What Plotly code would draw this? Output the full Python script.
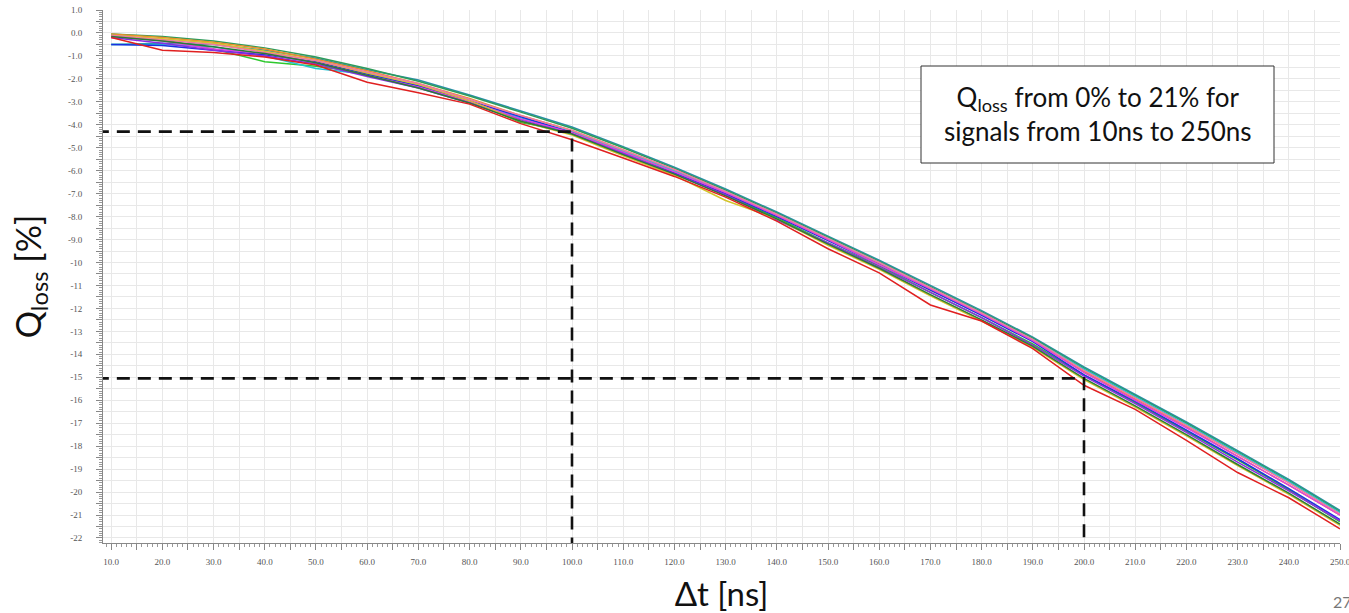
import plotly.graph_objects as go

# ---- data -------------------------------------------------------------
dt_ns = [10, 20, 30, 40, 50, 60, 70, 80, 90, 100, 110, 120, 130, 140, 150,
         160, 170, 180, 190, 200, 210, 220, 230, 240, 250]

s_teal = [-0.5, -0.45, -0.5, -0.75, -1.1, -1.6, -2.05, -2.7, -3.4, -4.1, -4.95, -5.85, -6.8, -7.8, -8.85,
          -9.9, -11.0, -12.1, -13.25, -14.55, -15.75, -16.95, -18.2, -19.45, -20.8]
s_seagreen = [-0.05, -0.15, -0.35, -0.65, -1.05, -1.55, -2.1, -2.75, -3.45, -4.15, -5.0, -5.9, -6.85, -7.85, -8.9,
              -9.95, -11.05, -12.15, -13.3, -14.6, -15.8, -17.0, -18.25, -19.5, -20.85]
s_orange = [-0.05, -0.2, -0.4, -0.7, -1.15, -1.65, -2.2, -2.85, -3.6, -4.25, -5.1, -6.0, -6.95, -7.95, -9.0,
            -10.05, -11.2, -12.25, -13.4, -14.75, -15.95, -17.15, -18.45, -19.7, -21.0]
s_green = [-0.1, -0.3, -0.7, -1.25, -1.45, -1.75, -2.3, -2.95, -3.9, -4.3, -5.2, -6.1, -7.05, -8.05, -9.15,
           -10.15, -11.3, -12.4, -13.55, -14.9, -16.1, -17.35, -18.6, -19.9, -21.3]
s_cyan = [-0.5, -0.5, -0.6, -1.0, -1.55, -1.8, -2.35, -3.0, -3.7, -4.3, -5.15, -6.0, -6.9, -7.9, -8.95,
          -10.0, -11.1, -12.2, -13.35, -14.65, -15.85, -17.05, -18.3, -19.55, -20.9]
s_blue = [-0.5, -0.55, -0.75, -0.95, -1.25, -1.8, -2.3, -2.95, -3.65, -4.35, -5.3, -6.1, -7.0, -8.0, -9.05,
          -10.1, -11.2, -12.3, -13.45, -14.9, -16.05, -17.3, -18.55, -19.85, -21.2]
s_magenta = [-0.15, -0.35, -0.7, -0.9, -1.3, -1.85, -2.35, -3.0, -3.75, -4.35, -5.2, -6.05, -6.95, -7.95, -9.0,
             -10.1, -11.15, -12.25, -13.4, -14.8, -16.0, -17.2, -18.45, -19.7, -21.0]
s_purple = [-0.2, -0.45, -0.75, -1.0, -1.35, -1.9, -2.4, -3.05, -3.8, -4.4, -5.25, -6.15, -7.05, -8.15, -9.15,
            -10.2, -11.3, -12.4, -13.6, -14.95, -16.15, -17.4, -18.7, -19.95, -21.25]
s_yellow = [-0.1, -0.25, -0.45, -0.8, -1.2, -1.75, -2.25, -2.95, -3.85, -4.45, -5.35, -6.2, -7.3, -8.1, -9.25,
            -10.3, -11.45, -12.55, -13.7, -15.1, -16.3, -17.55, -18.85, -20.1, -21.45]
s_pink = [-0.1, -0.3, -0.5, -0.85, -1.2, -1.7, -2.2, -2.9, -3.6, -4.25, -5.1, -5.95, -6.9, -7.9, -8.95,
          -10.0, -11.1, -12.2, -13.35, -14.7, -15.9, -17.1, -18.35, -19.6, -20.95]
s_darkgreen = [-0.15, -0.35, -0.6, -0.9, -1.3, -1.85, -2.4, -3.05, -3.85, -4.4, -5.3, -6.15, -7.1, -8.1, -9.2,
               -10.25, -11.4, -12.5, -13.65, -15.05, -16.25, -17.5, -18.8, -20.05, -21.4]
s_red = [-0.2, -0.75, -0.85, -1.05, -1.4, -2.15, -2.6, -3.1, -3.95, -4.65, -5.45, -6.25, -7.15, -8.2, -9.4,
         -10.45, -11.85, -12.55, -13.75, -15.35, -16.4, -17.75, -19.15, -20.25, -21.6]

series = [
    ("teal", s_teal, "#2a8fa8"),
    ("seagreen", s_seagreen, "#2e9b5a"),
    ("orange", s_orange, "#e8902a"),
    ("green", s_green, "#2ec82e"),
    ("cyan", s_cyan, "#22c4d4"),
    ("blue", s_blue, "#1a30e0"),
    ("magenta", s_magenta, "#e040e0"),
    ("purple", s_purple, "#8a2be2"),
    ("yellow", s_yellow, "#d4c42a"),
    ("pink", s_pink, "#f07aa0"),
    ("darkgreen", s_darkgreen, "#2a7a3a"),
    ("red", s_red, "#e02020"),
]

# guide lines (Δt, Qloss)
guide_dt = [100, 200]
guide_q = [-4.3, -15.05]

# axes
x_range = [8.4, 250]
y_range = [-22.22, 1.0]
x_tickvals = [10 + 5 * i for i in range(49)]
x_labels = ["10.0", "20.0", "30.0", "40.0", "50.0", "60.0", "70.0", "80.0", "90.0", "100.0",
            "110.0", "120.0", "130.0", "140.0", "150.0", "160.0", "170.0", "180.0", "190.0",
            "200.0", "210.0", "220.0", "230.0", "240.0", "250.0"]
y_tickvals = [1.0 - 0.5 * i for i in range(47)]
y_labels = ["1.0", "0.0", "-1.0", "-2.0", "-3.0", "-4.0", "-5.0", "-6.0", "-7.0", "-8.0", "-9.0",
            "-10", "-11", "-12", "-13", "-14", "-15", "-16", "-17", "-18", "-19", "-20", "-21", "-22"]

x_ticktext = []
for i, v in enumerate(x_tickvals):
    x_ticktext.append(x_labels[i // 2] if i % 2 == 0 else "")
y_ticktext = []
for i, v in enumerate(y_tickvals):
    y_ticktext.append(y_labels[i // 2] if i % 2 == 0 else "")

# ---- figure -----------------------------------------------------------
W, H = 1349, 613
PL, PT = 103, 10          # plot area left / top (px)
PW, PH = 1237, 533        # plot area size

def px_x(v):
    return (v - PL) / PW

def px_y(v):
    return (PT + PH - v) / PH

fig = go.Figure()
for name, vals, col in series:
    fig.add_trace(go.Scatter(x=dt_ns, y=vals, mode="lines", name=name,
                             line=dict(color=col, width=1.5), showlegend=False))

for gx, gy in zip(guide_dt, guide_q):
    fig.add_trace(go.Scatter(x=[x_range[0] - 1.4, gx, gx], y=[gy, gy, y_range[0]],
                             mode="lines", line=dict(color="#111111", width=2.6, dash="13px,8px"),
                             cliponaxis=False, showlegend=False, hoverinfo="skip"))

tickfont = dict(family="Liberation Serif, DejaVu Serif, serif", size=9, color="#555555")
titlefont = dict(family="Lato, Open Sans, sans-serif", size=33, color="#111111")

fig.update_layout(
    width=W, height=H,
    margin=dict(l=PL, r=W - PL - PW, t=PT, b=H - PT - PH),
    paper_bgcolor="white", plot_bgcolor="white",
    xaxis=dict(range=x_range, tickmode="array", tickvals=x_tickvals, ticktext=x_ticktext,
               automargin=False, ticklabeloverflow="allow",
               showgrid=True, gridcolor="#e8e8e8", gridwidth=1, zeroline=False,
               showline=True, linecolor="#888888", linewidth=1,
               ticks="outside", ticklen=6, tickcolor="#888888", tickfont=tickfont,
               ticklabelstandoff=4,
               minor=dict(dtick=1, tick0=10, ticks="outside", ticklen=3, tickcolor="#999999",
                          showgrid=False),
               title=dict(text="Δt [ns]", font=titlefont, standoff=18)),
    yaxis=dict(range=y_range, tickmode="array", tickvals=y_tickvals, ticktext=y_ticktext,
               automargin=False, ticklabeloverflow="allow",
               showgrid=True, gridcolor="#e8e8e8", gridwidth=1, zeroline=False,
               showline=True, linecolor="#888888", linewidth=1,
               ticks="outside", ticklen=6, tickcolor="#888888", tickfont=tickfont,
               ticklabelstandoff=12,
               minor=dict(dtick=0.1, tick0=0, ticks="outside", ticklen=3, tickcolor="#999999",
                          showgrid=False),
               title=dict(text="Q<sub>loss</sub> [%]",
                          font=dict(family="Lato, Open Sans, sans-serif", size=34, color="#111111"),
                          standoff=16)),
)

# annotation box
box_x0, box_x1 = px_x(921), px_x(1274)
box_y0, box_y1 = px_y(163), px_y(66)
fig.add_shape(type="rect", xref="paper", yref="paper", x0=box_x0, x1=box_x1, y0=box_y0, y1=box_y1,
              line=dict(color="#333333", width=1), fillcolor="white", layer="above")
fig.add_annotation(xref="paper", yref="paper", x=(box_x0 + box_x1) / 2, y=(box_y0 + box_y1) / 2,
                   xanchor="center", yanchor="middle",
                   text="Q<sub>loss</sub> from 0% to 21% for<br>signals from 10ns to 250ns",
                   showarrow=False, align="center",
                   font=dict(family="Lato, Open Sans, sans-serif", size=26, color="#111111"))

# page number (partly cut by the page edge, as in the source slide)
fig.add_annotation(xref="paper", yref="paper", x=px_x(1331), y=px_y(601),
                   xanchor="left", yanchor="middle", text="27", showarrow=False,
                   font=dict(family="Lato, Open Sans, sans-serif", size=16, color="#777777"))

# remove the default 8px page margin so the figure sits at the window's top-left corner
fig.write_html("out.html", config={"displayModeBar": False},
               post_script="document.body.style.margin='0';")
